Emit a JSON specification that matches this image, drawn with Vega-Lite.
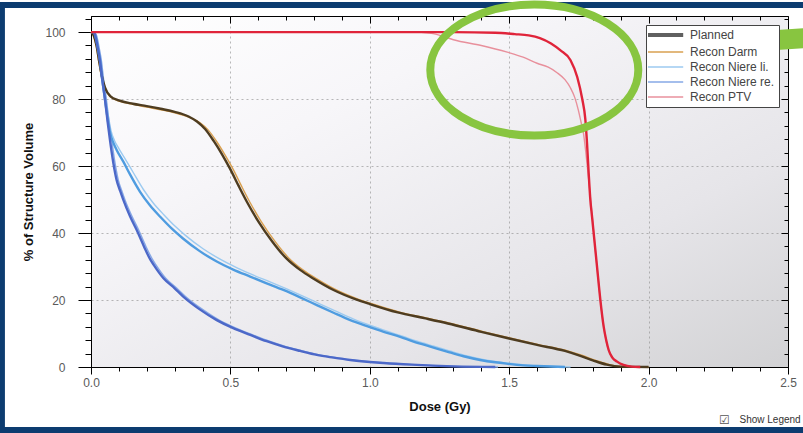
{
  "$schema": "https://vega.github.io/schema/vega-lite/v6.json",
  "width": 697,
  "height": 351,
  "autosize": {"type": "none"},
  "padding": {"left": 91, "top": 16, "right": 15, "bottom": 66},
  "background": "#ffffff",
  "config": {
    "view": {
      "stroke": "#000000",
      "strokeWidth": 1,
      "fill": {"gradient": "linear", "x1": 0, "y1": 0, "x2": 1, "y2": 1,
        "stops": [{"offset": 0, "color": "#ffffff"}, {"offset": 0.3, "color": "#f7f6f9"}, {"offset": 0.7, "color": "#e6e5e9"}, {"offset": 1, "color": "#d2d2d4"}]}
    },
    "font": "Liberation Sans",
    "axis": {
      "domainColor": "#000000",
      "tickColor": "#000000",
      "labelColor": "#5a5a5a",
      "labelFontSize": 12,
      "labelFont": "Liberation Sans",
      "titleFont": "Liberation Sans",
      "titleFontSize": 13,
      "titleFontWeight": "bold",
      "titleColor": "#111111",
      "gridColor": "#8a8a8a",
      "gridDash": [2, 3],
      "labelFlush": false,
      "labelOverlap": false,
      "tickCount": 100
    }
  },
  "datasets": {
    "curves": [
      {"s": "Recon Darm", "d": 0, "v": 100}, {"s": "Recon Darm", "d": 0.008, "v": 99}, {"s": "Recon Darm", "d": 0.018, "v": 96}, {"s": "Recon Darm", "d": 0.028, "v": 91}, {"s": "Recon Darm", "d": 0.038, "v": 86.5}, {"s": "Recon Darm", "d": 0.048, "v": 83.5}, {"s": "Recon Darm", "d": 0.068, "v": 80.8}, {"s": "Recon Darm", "d": 0.1, "v": 79.4}, {"s": "Recon Darm", "d": 0.15, "v": 78.4}, {"s": "Recon Darm", "d": 0.2, "v": 77.6}, {"s": "Recon Darm", "d": 0.25, "v": 76.8}, {"s": "Recon Darm", "d": 0.3, "v": 75.9}, {"s": "Recon Darm", "d": 0.35, "v": 74.6}, {"s": "Recon Darm", "d": 0.39, "v": 73}, {"s": "Recon Darm", "d": 0.42, "v": 70.8}, {"s": "Recon Darm", "d": 0.45, "v": 67.4}, {"s": "Recon Darm", "d": 0.48, "v": 63.4}, {"s": "Recon Darm", "d": 0.51, "v": 59}, {"s": "Recon Darm", "d": 0.54, "v": 54}, {"s": "Recon Darm", "d": 0.57, "v": 49.2}, {"s": "Recon Darm", "d": 0.61, "v": 43.5}, {"s": "Recon Darm", "d": 0.66, "v": 37.5}, {"s": "Recon Darm", "d": 0.71, "v": 32.5}, {"s": "Recon Darm", "d": 0.76, "v": 29}, {"s": "Recon Darm", "d": 0.81, "v": 26.3}, {"s": "Recon Darm", "d": 0.88, "v": 23}, {"s": "Recon Darm", "d": 0.96, "v": 20.2}, {"s": "Recon Darm", "d": 1.01, "v": 18.8}, {"s": "Recon Darm", "d": 1.11, "v": 16.3}, {"s": "Recon Darm", "d": 1.21, "v": 14.5}, {"s": "Recon Darm", "d": 1.29, "v": 13}, {"s": "Recon Darm", "d": 1.41, "v": 10.5}, {"s": "Recon Darm", "d": 1.51, "v": 8.5}, {"s": "Recon Darm", "d": 1.61, "v": 6.6}, {"s": "Recon Darm", "d": 1.71, "v": 4.8}, {"s": "Recon Darm", "d": 1.76, "v": 3.5}, {"s": "Recon Darm", "d": 1.81, "v": 2}, {"s": "Recon Darm", "d": 1.86, "v": 0.7}, {"s": "Recon Darm", "d": 1.91, "v": 0.1}, {"s": "Recon Darm", "d": 2.0, "v": 0},

      {"s": "Recon Niere li.", "d": 0, "v": 100}, {"s": "Recon Niere li.", "d": 0.01, "v": 100}, {"s": "Recon Niere li.", "d": 0.018, "v": 99}, {"s": "Recon Niere li.", "d": 0.028, "v": 95}, {"s": "Recon Niere li.", "d": 0.035, "v": 91.6}, {"s": "Recon Niere li.", "d": 0.043, "v": 86}, {"s": "Recon Niere li.", "d": 0.053, "v": 80}, {"s": "Recon Niere li.", "d": 0.063, "v": 74.5}, {"s": "Recon Niere li.", "d": 0.072, "v": 70.5}, {"s": "Recon Niere li.", "d": 0.085, "v": 67.5}, {"s": "Recon Niere li.", "d": 0.1, "v": 65.2}, {"s": "Recon Niere li.", "d": 0.125, "v": 61.8}, {"s": "Recon Niere li.", "d": 0.152, "v": 58}, {"s": "Recon Niere li.", "d": 0.188, "v": 53}, {"s": "Recon Niere li.", "d": 0.224, "v": 48.9}, {"s": "Recon Niere li.", "d": 0.262, "v": 45.4}, {"s": "Recon Niere li.", "d": 0.302, "v": 42}, {"s": "Recon Niere li.", "d": 0.343, "v": 39}, {"s": "Recon Niere li.", "d": 0.402, "v": 35.3}, {"s": "Recon Niere li.", "d": 0.463, "v": 32.2}, {"s": "Recon Niere li.", "d": 0.522, "v": 29.7}, {"s": "Recon Niere li.", "d": 0.583, "v": 27.4}, {"s": "Recon Niere li.", "d": 0.642, "v": 25.4}, {"s": "Recon Niere li.", "d": 0.702, "v": 23.3}, {"s": "Recon Niere li.", "d": 0.762, "v": 21.1}, {"s": "Recon Niere li.", "d": 0.822, "v": 18.8}, {"s": "Recon Niere li.", "d": 0.882, "v": 16.5}, {"s": "Recon Niere li.", "d": 0.942, "v": 14.3}, {"s": "Recon Niere li.", "d": 1.002, "v": 12.4}, {"s": "Recon Niere li.", "d": 1.062, "v": 10.7}, {"s": "Recon Niere li.", "d": 1.12, "v": 9.1}, {"s": "Recon Niere li.", "d": 1.17, "v": 7.7}, {"s": "Recon Niere li.", "d": 1.23, "v": 6.2}, {"s": "Recon Niere li.", "d": 1.29, "v": 4.7}, {"s": "Recon Niere li.", "d": 1.35, "v": 3.3}, {"s": "Recon Niere li.", "d": 1.41, "v": 2.2}, {"s": "Recon Niere li.", "d": 1.46, "v": 1.5}, {"s": "Recon Niere li.", "d": 1.5, "v": 1.1}, {"s": "Recon Niere li.", "d": 1.56, "v": 0.6}, {"s": "Recon Niere li.", "d": 1.62, "v": 0.3}, {"s": "Recon Niere li.", "d": 1.72, "v": 0},

      {"s": "Recon Niere re.", "d": 0, "v": 100}, {"s": "Recon Niere re.", "d": 0.012, "v": 100}, {"s": "Recon Niere re.", "d": 0.02, "v": 99}, {"s": "Recon Niere re.", "d": 0.03, "v": 95}, {"s": "Recon Niere re.", "d": 0.037, "v": 91.6}, {"s": "Recon Niere re.", "d": 0.045, "v": 86}, {"s": "Recon Niere re.", "d": 0.055, "v": 80}, {"s": "Recon Niere re.", "d": 0.065, "v": 73}, {"s": "Recon Niere re.", "d": 0.074, "v": 67.8}, {"s": "Recon Niere re.", "d": 0.086, "v": 61}, {"s": "Recon Niere re.", "d": 0.098, "v": 55.8}, {"s": "Recon Niere re.", "d": 0.111, "v": 52.5}, {"s": "Recon Niere re.", "d": 0.122, "v": 49.9}, {"s": "Recon Niere re.", "d": 0.147, "v": 45}, {"s": "Recon Niere re.", "d": 0.171, "v": 40.9}, {"s": "Recon Niere re.", "d": 0.197, "v": 36}, {"s": "Recon Niere re.", "d": 0.22, "v": 32.2}, {"s": "Recon Niere re.", "d": 0.233, "v": 30.5}, {"s": "Recon Niere re.", "d": 0.268, "v": 26.5}, {"s": "Recon Niere re.", "d": 0.308, "v": 23.5}, {"s": "Recon Niere re.", "d": 0.34, "v": 21}, {"s": "Recon Niere re.", "d": 0.4, "v": 17.2}, {"s": "Recon Niere re.", "d": 0.46, "v": 14}, {"s": "Recon Niere re.", "d": 0.52, "v": 11.6}, {"s": "Recon Niere re.", "d": 0.58, "v": 9.6}, {"s": "Recon Niere re.", "d": 0.64, "v": 7.7}, {"s": "Recon Niere re.", "d": 0.7, "v": 6.1}, {"s": "Recon Niere re.", "d": 0.76, "v": 4.8}, {"s": "Recon Niere re.", "d": 0.82, "v": 3.6}, {"s": "Recon Niere re.", "d": 0.88, "v": 2.8}, {"s": "Recon Niere re.", "d": 0.94, "v": 2.1}, {"s": "Recon Niere re.", "d": 1.06, "v": 1.2}, {"s": "Recon Niere re.", "d": 1.16, "v": 0.7}, {"s": "Recon Niere re.", "d": 1.31, "v": 0.2}, {"s": "Recon Niere re.", "d": 1.46, "v": 0},

      {"s": "Recon PTV", "d": 0, "v": 100}, {"s": "Recon PTV", "d": 1.15, "v": 100}, {"s": "Recon PTV", "d": 1.22, "v": 99.6}, {"s": "Recon PTV", "d": 1.26, "v": 98.8}, {"s": "Recon PTV", "d": 1.3, "v": 97.7}, {"s": "Recon PTV", "d": 1.4, "v": 96}, {"s": "Recon PTV", "d": 1.493, "v": 94}, {"s": "Recon PTV", "d": 1.55, "v": 92.5}, {"s": "Recon PTV", "d": 1.6, "v": 90.7}, {"s": "Recon PTV", "d": 1.64, "v": 89.5}, {"s": "Recon PTV", "d": 1.673, "v": 87.8}, {"s": "Recon PTV", "d": 1.7, "v": 85.8}, {"s": "Recon PTV", "d": 1.72, "v": 83.3}, {"s": "Recon PTV", "d": 1.735, "v": 80.5}, {"s": "Recon PTV", "d": 1.748, "v": 76.7}, {"s": "Recon PTV", "d": 1.758, "v": 73}, {"s": "Recon PTV", "d": 1.766, "v": 70}, {"s": "Recon PTV", "d": 1.775, "v": 64}, {"s": "Recon PTV", "d": 1.785, "v": 56}, {"s": "Recon PTV", "d": 1.793, "v": 49}, {"s": "Recon PTV", "d": 1.8, "v": 43}, {"s": "Recon PTV", "d": 1.81, "v": 34}, {"s": "Recon PTV", "d": 1.822, "v": 24}, {"s": "Recon PTV", "d": 1.834, "v": 15}, {"s": "Recon PTV", "d": 1.845, "v": 9}, {"s": "Recon PTV", "d": 1.855, "v": 5.5}, {"s": "Recon PTV", "d": 1.868, "v": 3}, {"s": "Recon PTV", "d": 1.885, "v": 1.7}, {"s": "Recon PTV", "d": 1.91, "v": 0.6}, {"s": "Recon PTV", "d": 1.94, "v": 0.1}, {"s": "Recon PTV", "d": 1.97, "v": 0},

      {"s": "Planned Darm", "d": 0, "v": 100}, {"s": "Planned Darm", "d": 0.01, "v": 99}, {"s": "Planned Darm", "d": 0.02, "v": 96}, {"s": "Planned Darm", "d": 0.03, "v": 91}, {"s": "Planned Darm", "d": 0.04, "v": 86.5}, {"s": "Planned Darm", "d": 0.05, "v": 83.5}, {"s": "Planned Darm", "d": 0.07, "v": 80.8}, {"s": "Planned Darm", "d": 0.1, "v": 79.6}, {"s": "Planned Darm", "d": 0.15, "v": 78.6}, {"s": "Planned Darm", "d": 0.2, "v": 77.9}, {"s": "Planned Darm", "d": 0.25, "v": 77.1}, {"s": "Planned Darm", "d": 0.3, "v": 76.2}, {"s": "Planned Darm", "d": 0.35, "v": 74.8}, {"s": "Planned Darm", "d": 0.38, "v": 73.3}, {"s": "Planned Darm", "d": 0.41, "v": 71}, {"s": "Planned Darm", "d": 0.44, "v": 67.5}, {"s": "Planned Darm", "d": 0.47, "v": 63.5}, {"s": "Planned Darm", "d": 0.5, "v": 59}, {"s": "Planned Darm", "d": 0.53, "v": 54}, {"s": "Planned Darm", "d": 0.56, "v": 49.2}, {"s": "Planned Darm", "d": 0.6, "v": 43.5}, {"s": "Planned Darm", "d": 0.65, "v": 37.5}, {"s": "Planned Darm", "d": 0.7, "v": 32.5}, {"s": "Planned Darm", "d": 0.75, "v": 29}, {"s": "Planned Darm", "d": 0.8, "v": 26.3}, {"s": "Planned Darm", "d": 0.87, "v": 23}, {"s": "Planned Darm", "d": 0.95, "v": 20.2}, {"s": "Planned Darm", "d": 1.0, "v": 18.8}, {"s": "Planned Darm", "d": 1.1, "v": 16.3}, {"s": "Planned Darm", "d": 1.2, "v": 14.5}, {"s": "Planned Darm", "d": 1.28, "v": 13}, {"s": "Planned Darm", "d": 1.4, "v": 10.5}, {"s": "Planned Darm", "d": 1.5, "v": 8.5}, {"s": "Planned Darm", "d": 1.6, "v": 6.6}, {"s": "Planned Darm", "d": 1.7, "v": 4.8}, {"s": "Planned Darm", "d": 1.75, "v": 3.5}, {"s": "Planned Darm", "d": 1.8, "v": 2}, {"s": "Planned Darm", "d": 1.85, "v": 0.7}, {"s": "Planned Darm", "d": 1.9, "v": 0.1}, {"s": "Planned Darm", "d": 2.0, "v": 0},

      {"s": "Planned Niere li.", "d": 0, "v": 100}, {"s": "Planned Niere li.", "d": 0.01, "v": 100}, {"s": "Planned Niere li.", "d": 0.015, "v": 99}, {"s": "Planned Niere li.", "d": 0.025, "v": 95}, {"s": "Planned Niere li.", "d": 0.032, "v": 91.6}, {"s": "Planned Niere li.", "d": 0.04, "v": 86}, {"s": "Planned Niere li.", "d": 0.05, "v": 80}, {"s": "Planned Niere li.", "d": 0.06, "v": 74}, {"s": "Planned Niere li.", "d": 0.068, "v": 70}, {"s": "Planned Niere li.", "d": 0.08, "v": 67}, {"s": "Planned Niere li.", "d": 0.092, "v": 64.8}, {"s": "Planned Niere li.", "d": 0.116, "v": 61.3}, {"s": "Planned Niere li.", "d": 0.14, "v": 57.5}, {"s": "Planned Niere li.", "d": 0.176, "v": 52.3}, {"s": "Planned Niere li.", "d": 0.212, "v": 48.2}, {"s": "Planned Niere li.", "d": 0.25, "v": 44.7}, {"s": "Planned Niere li.", "d": 0.29, "v": 41.3}, {"s": "Planned Niere li.", "d": 0.331, "v": 38.3}, {"s": "Planned Niere li.", "d": 0.39, "v": 34.6}, {"s": "Planned Niere li.", "d": 0.451, "v": 31.5}, {"s": "Planned Niere li.", "d": 0.51, "v": 29.1}, {"s": "Planned Niere li.", "d": 0.571, "v": 27}, {"s": "Planned Niere li.", "d": 0.63, "v": 25}, {"s": "Planned Niere li.", "d": 0.69, "v": 23}, {"s": "Planned Niere li.", "d": 0.75, "v": 20.8}, {"s": "Planned Niere li.", "d": 0.81, "v": 18.5}, {"s": "Planned Niere li.", "d": 0.87, "v": 16.2}, {"s": "Planned Niere li.", "d": 0.93, "v": 14}, {"s": "Planned Niere li.", "d": 0.99, "v": 12.2}, {"s": "Planned Niere li.", "d": 1.05, "v": 10.5}, {"s": "Planned Niere li.", "d": 1.109, "v": 9}, {"s": "Planned Niere li.", "d": 1.157, "v": 7.6}, {"s": "Planned Niere li.", "d": 1.217, "v": 6.1}, {"s": "Planned Niere li.", "d": 1.277, "v": 4.6}, {"s": "Planned Niere li.", "d": 1.336, "v": 3.2}, {"s": "Planned Niere li.", "d": 1.396, "v": 2.1}, {"s": "Planned Niere li.", "d": 1.45, "v": 1.4}, {"s": "Planned Niere li.", "d": 1.49, "v": 1}, {"s": "Planned Niere li.", "d": 1.55, "v": 0.5}, {"s": "Planned Niere li.", "d": 1.6, "v": 0.3}, {"s": "Planned Niere li.", "d": 1.7, "v": 0},

      {"s": "Planned Niere re.", "d": 0, "v": 100}, {"s": "Planned Niere re.", "d": 0.01, "v": 100}, {"s": "Planned Niere re.", "d": 0.015, "v": 99}, {"s": "Planned Niere re.", "d": 0.025, "v": 95}, {"s": "Planned Niere re.", "d": 0.032, "v": 91.6}, {"s": "Planned Niere re.", "d": 0.04, "v": 86}, {"s": "Planned Niere re.", "d": 0.05, "v": 80}, {"s": "Planned Niere re.", "d": 0.06, "v": 73}, {"s": "Planned Niere re.", "d": 0.068, "v": 67.8}, {"s": "Planned Niere re.", "d": 0.08, "v": 61}, {"s": "Planned Niere re.", "d": 0.092, "v": 55.8}, {"s": "Planned Niere re.", "d": 0.105, "v": 52.5}, {"s": "Planned Niere re.", "d": 0.116, "v": 49.9}, {"s": "Planned Niere re.", "d": 0.14, "v": 45}, {"s": "Planned Niere re.", "d": 0.164, "v": 40.9}, {"s": "Planned Niere re.", "d": 0.19, "v": 36}, {"s": "Planned Niere re.", "d": 0.212, "v": 32.2}, {"s": "Planned Niere re.", "d": 0.225, "v": 30.5}, {"s": "Planned Niere re.", "d": 0.26, "v": 26.5}, {"s": "Planned Niere re.", "d": 0.3, "v": 23.5}, {"s": "Planned Niere re.", "d": 0.331, "v": 21}, {"s": "Planned Niere re.", "d": 0.39, "v": 17.2}, {"s": "Planned Niere re.", "d": 0.451, "v": 14}, {"s": "Planned Niere re.", "d": 0.51, "v": 11.6}, {"s": "Planned Niere re.", "d": 0.571, "v": 9.6}, {"s": "Planned Niere re.", "d": 0.63, "v": 7.7}, {"s": "Planned Niere re.", "d": 0.69, "v": 6.1}, {"s": "Planned Niere re.", "d": 0.75, "v": 4.8}, {"s": "Planned Niere re.", "d": 0.81, "v": 3.6}, {"s": "Planned Niere re.", "d": 0.87, "v": 2.8}, {"s": "Planned Niere re.", "d": 0.93, "v": 2.1}, {"s": "Planned Niere re.", "d": 1.05, "v": 1.2}, {"s": "Planned Niere re.", "d": 1.15, "v": 0.7}, {"s": "Planned Niere re.", "d": 1.3, "v": 0.2}, {"s": "Planned Niere re.", "d": 1.45, "v": 0},

      {"s": "Planned PTV", "d": 0, "v": 100}, {"s": "Planned PTV", "d": 1.3, "v": 100}, {"s": "Planned PTV", "d": 1.45, "v": 99.8}, {"s": "Planned PTV", "d": 1.52, "v": 99.4}, {"s": "Planned PTV", "d": 1.57, "v": 99}, {"s": "Planned PTV", "d": 1.61, "v": 98.2}, {"s": "Planned PTV", "d": 1.65, "v": 96.6}, {"s": "Planned PTV", "d": 1.683, "v": 94.6}, {"s": "Planned PTV", "d": 1.72, "v": 91.6}, {"s": "Planned PTV", "d": 1.744, "v": 86.6}, {"s": "Planned PTV", "d": 1.762, "v": 80}, {"s": "Planned PTV", "d": 1.773, "v": 74}, {"s": "Planned PTV", "d": 1.779, "v": 67}, {"s": "Planned PTV", "d": 1.785, "v": 58}, {"s": "Planned PTV", "d": 1.791, "v": 50}, {"s": "Planned PTV", "d": 1.797, "v": 45}, {"s": "Planned PTV", "d": 1.803, "v": 40}, {"s": "Planned PTV", "d": 1.815, "v": 30}, {"s": "Planned PTV", "d": 1.827, "v": 20}, {"s": "Planned PTV", "d": 1.839, "v": 12}, {"s": "Planned PTV", "d": 1.848, "v": 8}, {"s": "Planned PTV", "d": 1.857, "v": 5}, {"s": "Planned PTV", "d": 1.87, "v": 2.8}, {"s": "Planned PTV", "d": 1.887, "v": 1.6}, {"s": "Planned PTV", "d": 1.91, "v": 0.6}, {"s": "Planned PTV", "d": 1.94, "v": 0.1}, {"s": "Planned PTV", "d": 1.97, "v": 0}
    ]
  },
  "resolve": {"axis": {"x": "independent", "y": "independent"}},
  "layer": [
    {
      "layer": [
        {
          "data": {"values": [{}]},
          "mark": {"type": "rect", "fill": "transparent", "opacity": 0},
          "encoding": {
            "x": {
              "datum": 0, "type": "quantitative",
              "scale": {"domain": [0, 2.5], "nice": false, "zero": false},
              "axis": {
                "title": "Dose (Gy)",
                "grid": true,
                "values": [0, 0.1, 0.2, 0.3, 0.4, 0.5, 0.6, 0.7, 0.8, 0.9, 1.0, 1.1, 1.2, 1.3, 1.4, 1.5, 1.6, 1.7, 1.8, 1.9, 2.0, 2.1, 2.2, 2.3, 2.4, 2.5],
                "format": ".1f",
                "labelExpr": "abs(datum.value*2-round(datum.value*2))<0.001 ? datum.label : ''",
                "tickSize": {"condition": {"test": "abs(datum.value*2-round(datum.value*2))<0.001", "value": 7}, "value": 4},
                "gridOpacity": {"condition": {"test": "abs(datum.value*2-round(datum.value*2))<0.001 && datum.value>0.01 && datum.value<2.49", "value": 0.6}, "value": 0},
                "labelPadding": 3,
                "titlePadding": 12
              }
            },
            "x2": {"datum": 2.5},
            "y": {
              "datum": 0, "type": "quantitative",
              "scale": {"domain": [0, 104.8], "nice": false, "zero": false},
              "axis": {
                "title": "% of Structure Volume",
                "grid": true,
                "values": [0, 4, 8, 12, 16, 20, 24, 28, 32, 36, 40, 44, 48, 52, 56, 60, 64, 68, 72, 76, 80, 84, 88, 92, 96, 100, 104],
                "labelExpr": "datum.value % 20 === 0 ? datum.label : ''",
                "tickSize": {"condition": {"test": "datum.value % 20 === 0", "value": 13}, "value": 6},
                "gridOpacity": {"condition": {"test": "datum.value % 20 === 0 && datum.value > 0 && datum.value < 100", "value": 0.6}, "value": 0},
                "labelPadding": 13,
                "titlePadding": 9
              }
            },
            "y2": {"datum": 104.8}
          }
        },
        {
          "data": {"name": "curves"},
          "transform": [{"filter": "indexof(datum.s, 'Recon') === 0"}],
          "mark": {"type": "line", "strokeWidth": 1.4, "interpolate": "monotone"},
          "encoding": {
            "x": {"field": "d", "type": "quantitative"},
            "y": {"field": "v", "type": "quantitative"},
            "color": {
              "field": "s", "type": "nominal",
              "scale": {
                "domain": ["Planned", "Recon Darm", "Recon Niere li.", "Recon Niere re.", "Recon PTV", "Planned Darm", "Planned Niere li.", "Planned Niere re.", "Planned PTV"],
                "range": ["#606060", "#d9a050", "#9ccaf0", "#86a8e6", "#e8909c", "#4e3c20", "#4f9ce0", "#4c68c8", "#e0243a"]
              },
              "legend": {
                "title": null,
                "orient": "top-right",
                "offset": 9,
                "values": ["Planned", "Recon Darm", "Recon Niere li.", "Recon Niere re.", "Recon PTV"],
                "symbolType": "M -1 0 L 3.4 0",
                "symbolSize": 256,
                "symbolStrokeWidth": 1.5,
                "labelFont": "Liberation Sans",
                "labelFontSize": 12,
                "labelColor": "#444444",
                "labelOffset": 28,
                "rowPadding": 3,
                "padding": 4,
                "fillColor": "#ffffff",
                "strokeColor": "#444444",
                "encode": {"symbols": {"update": {"strokeWidth": {"signal": "datum.value === 'Planned' ? 4 : 1.5"}}}}
              }
            }
          }
        },
        {
          "data": {"name": "curves"},
          "transform": [{"filter": "indexof(datum.s, 'Planned') === 0"}],
          "mark": {"type": "line", "strokeWidth": 2.4, "interpolate": "monotone"},
          "encoding": {
            "x": {"field": "d", "type": "quantitative"},
            "y": {"field": "v", "type": "quantitative"},
            "color": {"field": "s", "type": "nominal"}
          }
        },
        {
          "data": {"values": [{"t": "\u2611"}]},
          "mark": {"type": "text", "font": "DejaVu Sans", "fontSize": 12, "color": "#555555", "align": "center", "baseline": "middle"},
          "encoding": {"x": {"datum": 2.272, "type": "quantitative"}, "y": {"datum": -15.8, "type": "quantitative"}, "text": {"field": "t"}}
        },
        {
          "data": {"values": [{"t": "Show Legend"}]},
          "mark": {"type": "text", "font": "Liberation Sans", "fontSize": 10, "color": "#333333", "align": "left", "baseline": "middle"},
          "encoding": {"x": {"datum": 2.326, "type": "quantitative"}, "y": {"datum": -15.8, "type": "quantitative"}, "text": {"field": "t"}}
        },
        {
          "data": {"values": [{}]},
          "mark": {"type": "rect", "fill": "transparent", "stroke": "#0c3c70", "strokeWidth": 6, "clip": false},
          "encoding": {"x": {"datum": -0.3195, "type": "quantitative"}, "x2": {"datum": 2.62}, "y": {"datum": -18.8, "type": "quantitative"}, "y2": {"datum": 108.06}}
        },
        {
          "data": {"values": [{}]},
          "mark": {"type": "point", "shape": "M 1 0 C 1 0.348 0.5523 0.63 0 0.63 C -0.5523 0.63 -1 0.348 -1 0 C -1 -0.348 -0.5523 -0.63 0 -0.63 C 0.5523 -0.63 1 -0.348 1 0 Z", "size": 43264, "filled": false, "stroke": "#88c540", "strokeWidth": 8, "opacity": 1, "strokeOpacity": 1},
          "encoding": {"x": {"datum": 1.59, "type": "quantitative"}, "y": {"datum": 88.66, "type": "quantitative"}}
        },
        {
          "data": {"values": [{}]},
          "mark": {"type": "rule", "stroke": "#88c540", "strokeWidth": 20, "strokeCap": "butt"},
          "encoding": {"x": {"datum": 2.017, "type": "quantitative"}, "x2": {"datum": 2.62}, "y": {"datum": 95.2, "type": "quantitative"}, "y2": {"datum": 98.5}}
        }
      ]
    },
    {
      "data": {"values": [{}]},
      "mark": {"type": "point", "opacity": 0},
      "encoding": {
        "x": {
          "datum": 0, "type": "quantitative",
          "axis": {
            "orient": "top", "title": null, "labels": false, "domain": false, "grid": false,
            "values": [0, 0.1, 0.2, 0.3, 0.4, 0.5, 0.6, 0.7, 0.8, 0.9, 1.0, 1.1, 1.2, 1.3, 1.4, 1.5, 1.6, 1.7, 1.8, 1.9, 2.0, 2.1, 2.2, 2.3, 2.4, 2.5],
            "tickSize": {"condition": {"test": "abs(datum.value*2-round(datum.value*2))<0.001", "value": -7}, "value": -4}
          }
        },
        "y": {
          "datum": 0, "type": "quantitative",
          "axis": {
            "orient": "right", "title": null, "labels": false, "domain": false, "grid": false,
            "values": [0, 4, 8, 12, 16, 20, 24, 28, 32, 36, 40, 44, 48, 52, 56, 60, 64, 68, 72, 76, 80, 84, 88, 92, 96, 100, 104],
            "tickSize": {"condition": {"test": "datum.value % 20 === 0", "value": -7}, "value": -4}
          }
        }
      }
    }
  ]
}
